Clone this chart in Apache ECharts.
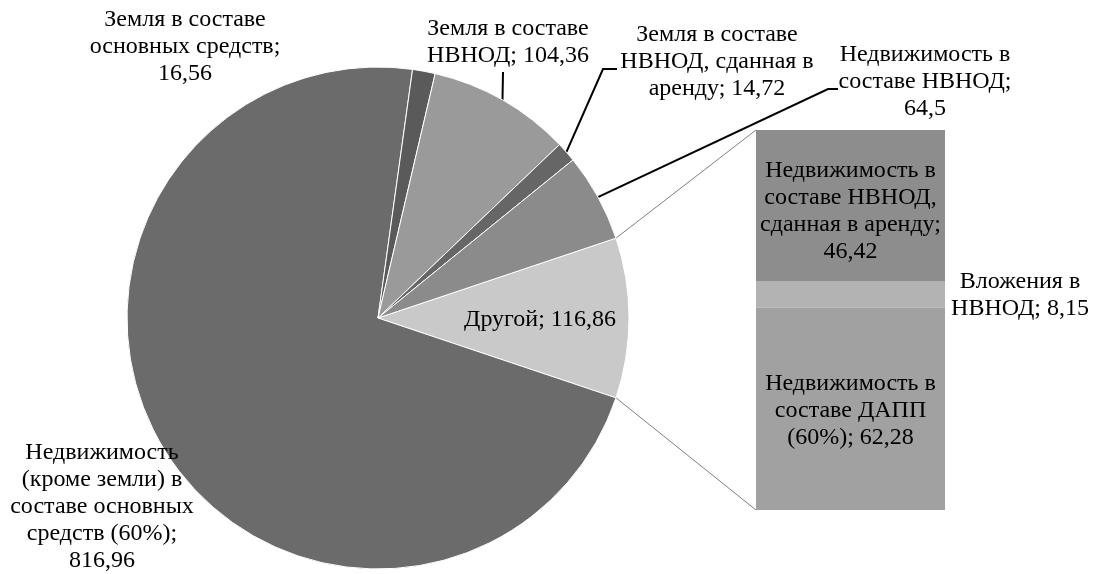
<!DOCTYPE html>
<html>
<head>
<meta charset="utf-8">
<script src="https://cdn.jsdelivr.net/npm/echarts@6/dist/echarts.min.js"></script>
<style>
  html, body { margin: 0; padding: 0; background: #fff; }
  #chart { width: 1095px; height: 574px; }
</style>
</head>
<body>
<div id="chart"></div>
<script>
// Main pie: asset groups (the last one is broken down in the bar on the right)
const pieNames = [
  'Другой',
  'Недвижимость\n(кроме земли) в\nсоставе основных\nсредств (60%)',
  'Земля в составе\nосновных средств',
  'Земля в составе\nНВНОД',
  'Земля в составе\nНВНОД, сданная в\nаренду',
  'Недвижимость в\nсоставе НВНОД'
];
const pieValues = [116.86, 816.96, 16.56, 104.36, 14.72, 64.5];

// Breakdown of "Другой"
const barNames = [
  'Недвижимость в\nсоставе НВНОД,\nсданная в аренду',
  'Вложения в\nНВНОД',
  'Недвижимость в\nсоставе ДАПП\n(60%)'
];
const barValues = [46.42, 8.15, 62.28];

const fmt = v => String(v).replace('.', ',');

// geometry
const PIE = { cx: 378, cy: 318, r: 251 };
const BAR = { left: 756, top: 130, width: 189, height: 380 };
const FONT = { fontFamily: '"Liberation Serif", "Times New Roman", serif', fontSize: 24, lineHeight: 27, color: '#000' };

const pieColors = ['#c9c9c9', '#6b6b6b', '#5a5a5a', '#9a9a9a', '#666666', '#8b8b8b'];
const barColors = ['#8d8d8d', '#b3b3b3', '#a1a1a1'];

// separator between name and value inside each label
const pieSep = ['; ', ';\n', ';\n', '; ', '; ', ';\n'];
const barSep = [';\n', '; ', '; '];
// label centre and leader elbow for each pie slice
const pieLabelLayout = [
  { x: 540, y: 320 },
  { x: 102, y: 507 },
  { x: 185, y: 47 },
  { x: 508, y: 42, elbow: [[503, 72], [503, 72]] },
  { x: 717, y: 62, elbow: [[603, 69], [617, 69]] },
  { x: 925, y: 82, elbow: [[828, 89], [838, 89]] }
];

const total = pieValues.reduce((a, b) => a + b, 0);
const otherHalf = 180 * pieValues[0] / total;   // "Другой" is centred on the right

const pieData = pieNames.map((n, i) => ({
  name: n,
  value: pieValues[i],
  itemStyle: { color: pieColors[i] },
  label: { formatter: n + pieSep[i] + fmt(pieValues[i]) },
  labelLine: { show: !!pieLabelLayout[i].elbow }
}));

const barTotal = barValues.reduce((a, b) => a + b, 0);
const barSeries = barValues.map((v, i) => ({
  type: 'bar',
  stack: 'other',
  barWidth: '100%',
  data: [v],
  itemStyle: { color: barColors[i] },
  label: Object.assign({
    show: true,
    formatter: barNames[i] + barSep[i] + fmt(v),
    align: 'center',
    verticalAlign: 'middle'
  }, FONT, i === 1
    ? { position: ['139.7%', '55%'] }
    : { position: ['50%', '50%'], offset: [0, i === 0 ? 6 : 2] })
}));

// connectors from the "Другой" slice edges to the bar corners
const rad = otherHalf * Math.PI / 180;
const edgeTop = [PIE.cx + PIE.r * Math.cos(rad), PIE.cy - PIE.r * Math.sin(rad)];
const edgeBot = [PIE.cx + PIE.r * Math.cos(rad), PIE.cy + PIE.r * Math.sin(rad)];

const chart = echarts.init(document.getElementById('chart'));
chart.setOption({
  backgroundColor: '#fff',
  animation: false,
  grid: { left: BAR.left, top: BAR.top, width: BAR.width, height: BAR.height },
  xAxis: { type: 'category', data: ['Другой'], show: false },
  yAxis: { type: 'value', min: 0, max: barTotal, inverse: true, show: false },
  series: [{
    type: 'pie',
    center: [PIE.cx, PIE.cy],
    radius: PIE.r,
    startAngle: otherHalf,
    clockwise: true,
    avoidLabelOverlap: false,
    itemStyle: { borderColor: '#ffffff', borderWidth: 1 },
    label: Object.assign({ show: true, position: 'outside', align: 'center' }, FONT),
    labelLine: { lineStyle: { color: '#000', width: 2 } },
    labelLayout: function (p) {
      const L = pieLabelLayout[p.dataIndex];
      const out = { x: L.x, y: L.y, align: 'center', verticalAlign: 'middle' };
      if (L.elbow && p.labelLinePoints) {
        out.labelLinePoints = [p.labelLinePoints[0], L.elbow[0], L.elbow[1]];
      }
      return out;
    },
    data: pieData
  }].concat(barSeries),
  graphic: [
    { type: 'line', shape: { x1: edgeTop[0], y1: edgeTop[1], x2: BAR.left, y2: BAR.top }, style: { stroke: '#7f7f7f', lineWidth: 1 } },
    { type: 'line', shape: { x1: edgeBot[0], y1: edgeBot[1], x2: BAR.left, y2: BAR.top + BAR.height }, style: { stroke: '#7f7f7f', lineWidth: 1 } }
  ]
});
</script>
</body>
</html>
